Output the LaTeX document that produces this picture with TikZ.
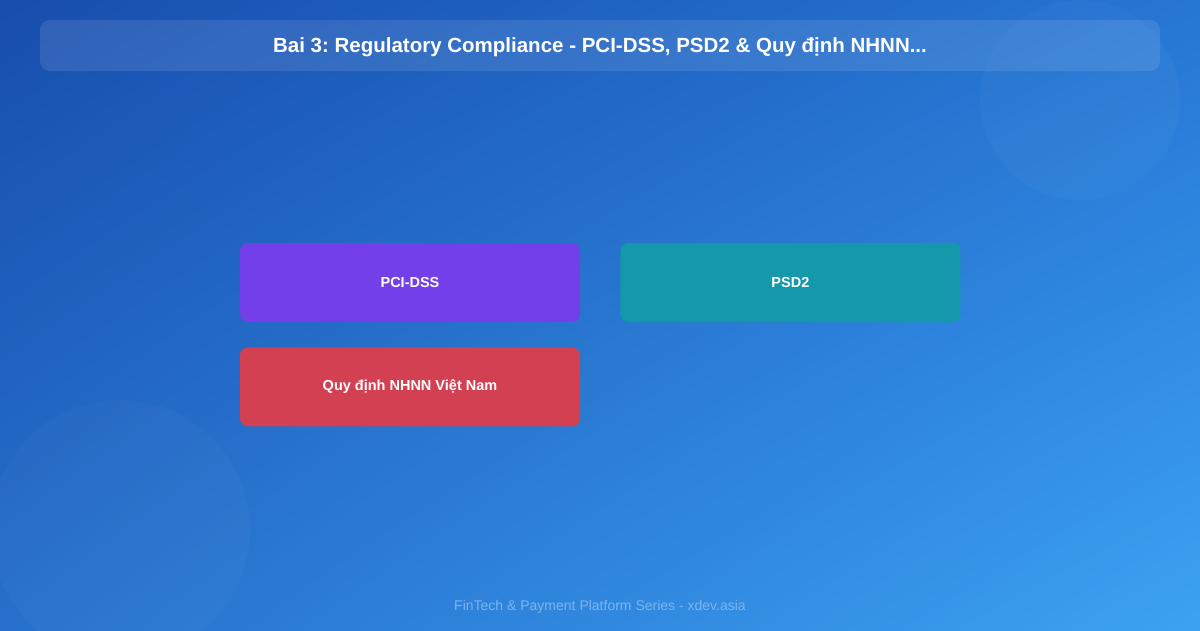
\documentclass[tikz,border=0pt]{standalone}
\usepackage{fontspec}
\setmainfont{Liberation Sans}
\frenchspacing
\usetikzlibrary{positioning, shadings}
\definecolor{bgtl}{RGB}{24,78,174}
\definecolor{bgtr}{RGB}{38,118,212}
\definecolor{bgbl}{RGB}{38,112,204}
\definecolor{bgbr}{RGB}{60,162,242}
\definecolor{pcicol}{RGB}{115,63,233}
\definecolor{psdcol}{RGB}{19,153,169}
\definecolor{nhnncol}{RGB}{211,64,82}
\definecolor{footcol}{RGB}{125,180,238}
\tikzstyle{card} = [rectangle, rounded corners=8pt, minimum width=340pt, minimum height=79pt, inner sep=0pt, text centered, text=white, font=\fontsize{14.5}{16}\selectfont\bfseries]
\tikzstyle{titlebar} = [rectangle, rounded corners=10pt, fill=white, fill opacity=0.1]
\tikzstyle{blob} = [fill=white, fill opacity=0.025]

\begin{document}
\begin{tikzpicture}[x=1pt, y=-1pt, node distance=25pt and 40pt]

		% Background
		\useasboundingbox (0,0) rectangle (1200,630);
		\shade[upper left=bgtl, upper right=bgtr, lower left=bgbl, lower right=bgbr] (0,0) rectangle (1200,630);
		\fill[blob] (1080,100) circle (100);
		\fill[blob] (120,530) circle (130);

		% Title
		\fill[titlebar] (40,20) rectangle (1160,71);
		\node (title) at (600,47) [text=white, font=\fontsize{20.5}{22}\selectfont\bfseries] {Bai 3: Regulatory Compliance - PCI-DSS, PSD2 \& Quy định NHNN...};

		% Draw the nodes
		\node (pci) at (410,282.5) [card, fill=pcicol] {PCI-DSS};
		\node (psd) [card, fill=psdcol, right=of pci] {PSD2};
		\node (nhnn) [card, fill=nhnncol, below=of pci] {Quy định NHNN Việt Nam};

		% Footer
		\node (foot) at (600,606.5) [text=footcol, font=\fontsize{14}{16}\selectfont] {FinTech \& Payment Platform Series - xdev.asia};

	\end{tikzpicture}
\end{document}
